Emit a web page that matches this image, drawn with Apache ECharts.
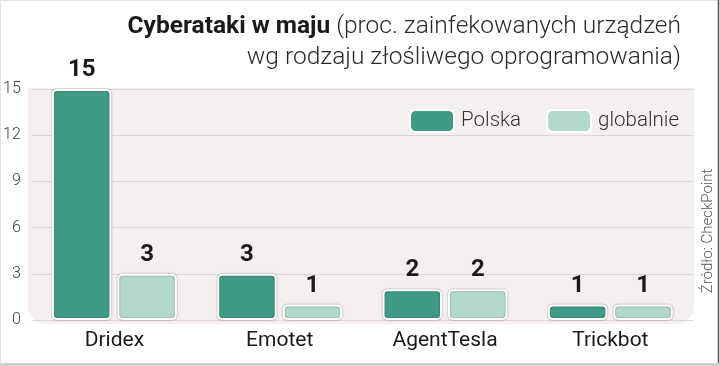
<!DOCTYPE html>
<html>
<head>
<meta charset="utf-8">
<script src="https://cdn.jsdelivr.net/npm/echarts@6/dist/echarts.min.js"></script>
<style>
html,body{margin:0;padding:0;background:#fff;}
#c{width:720px;height:366px;}
</style>
</head>
<body>
<div id="c"></div>
<script>
var categories = ['Dridex', 'Emotet', 'AgentTesla', 'Trickbot'];
var polska = [15, 3, 2, 1];
var globalnie = [3, 1, 2, 1];
var yTicks = [0, 3, 6, 9, 12, 15];
var titleBold = 'Cyberataki w maju';
var titleRest1 = ' (proc. zainfekowanych urządzeń';
var titleRest2 = 'wg rodzaju złośliwego oprogramowania)';
var sourceText = 'Źródło: CheckPoint';

var chart = echarts.init(document.getElementById('c'), null, {renderer: 'canvas'});
var FONT = 'Roboto, "Noto Sans", sans-serif';

var barStyle = function (color) {
  return {
    color: color,
    borderColor: '#ffffff',
    borderWidth: 2,
    borderRadius: 4,
    shadowColor: 'rgba(0,0,0,0.35)',
    shadowBlur: 2
  };
};

var option = {
  animation: false,
  textStyle: {fontFamily: FONT},
  grid: {left: 30, right: 27, top: 89, bottom: 46, containLabel: false},
  title: [{
    text: '{b|' + titleBold + '}{r|' + titleRest1 + '}',
    right: 34, top: 9,
    textStyle: {
      rich: {
        b: {fontFamily: FONT, fontWeight: 'bold', fontSize: 24.5, color: '#1a1a1a'},
        r: {fontFamily: FONT, fontWeight: 300, fontSize: 24.5, color: '#2a2a2a'}
      }
    }
  }, {
    text: titleRest2,
    right: 34, top: 40,
    textStyle: {fontFamily: FONT, fontWeight: 300, fontSize: 24.5, color: '#2a2a2a'}
  }],
  legend: {
    right: 36, top: 104,
    itemWidth: 44, itemHeight: 22, itemGap: 25,
    icon: 'roundRect',
    textStyle: {fontFamily: FONT, fontWeight: 300, fontSize: 20.5, color: '#333', padding: [0, 0, 0, 2]},
    data: ['Polska', 'globalnie']
  },
  xAxis: {
    type: 'category',
    data: categories,
    axisLine: {show: false},
    axisTick: {show: false},
    axisLabel: {fontFamily: FONT, fontSize: 21, color: '#1a1a1a', margin: 10}
  },
  yAxis: {
    type: 'value',
    min: yTicks[0], max: yTicks[yTicks.length - 1], interval: 3,
    axisLine: {show: false},
    axisTick: {show: false},
    axisLabel: {fontFamily: FONT, fontSize: 16, color: '#444', margin: 11, fontWeight: 300},
    splitLine: {lineStyle: {color: '#dcd5d9', width: 1}}
  },
  graphic: [
    {type: 'rect', z: -10, silent: true,
     shape: {x: 28, y: 88, width: 666, height: 236, r: [0, 0, 18, 18]},
     style: {fill: '#f5eff2'}},
    {type: 'text', silent: true, x: 708, y: 231, rotation: Math.PI / 2,
     style: {text: sourceText, fill: '#555', font: '300 15px Roboto, sans-serif', textAlign: 'center', textVerticalAlign: 'middle'}},
    {type: 'rect', silent: true, z: 10,
     shape: {x: 0.5, y: 0.5, width: 718, height: 364},
     style: {fill: 'none', stroke: '#e2e2e2', lineWidth: 1}},
    {type: 'line', silent: true, z: 11,
     shape: {x1: 718.5, y1: 0, x2: 718.5, y2: 366},
     style: {stroke: '#555', lineWidth: 1.5}},
    {type: 'rect', silent: true, z: 11,
     shape: {x: 0, y: 363, width: 720, height: 3},
     style: {fill: '#cfcfcf'}}
  ],
  series: [{
    name: 'Polska',
    type: 'bar',
    data: polska,
    barWidth: '36%',
    barGap: '10%',
    itemStyle: barStyle('#3f9a86'),
    label: {show: true, position: 'top', distance: 7,
      fontFamily: FONT, fontWeight: 'bold', fontSize: 24, color: '#1a1a1a'}
  }, {
    name: 'globalnie',
    type: 'bar',
    data: globalnie,
    barWidth: '36%',
    itemStyle: barStyle('#b3d9ca'),
    label: {show: true, position: 'top', distance: 7,
      fontFamily: FONT, fontWeight: 'bold', fontSize: 24, color: '#1a1a1a'}
  }]
};
chart.setOption(option);
</script>
</body>
</html>
